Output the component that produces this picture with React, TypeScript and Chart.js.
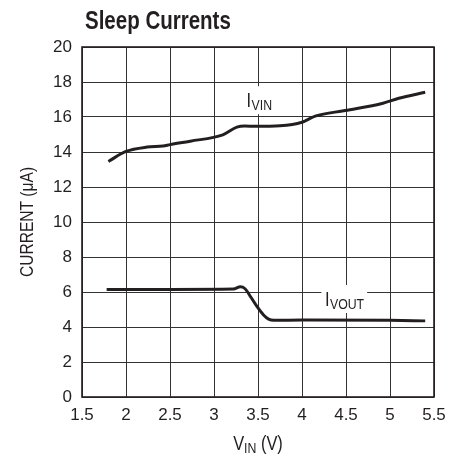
import React, { useEffect, useRef } from "react";
import { Chart, registerables } from "chart.js";

Chart.register(...registerables);

const ivinX = [1.8, 2.0, 2.24, 2.42, 2.5, 2.73, 3.1, 3.26, 3.35, 3.47, 3.75, 4.0, 4.15, 4.49, 4.92, 5.1, 5.4];
const ivinY = [13.46, 14.03, 14.28, 14.34, 14.42, 14.62, 14.98, 15.42, 15.48, 15.47, 15.5, 15.7, 16.05, 16.37, 16.79, 17.07, 17.41];
const ivoutX = [1.78, 2.5, 3.22, 3.3, 3.35, 3.42, 3.49, 3.56, 3.62, 3.68, 4.0, 5.0, 5.4];
const ivoutY = [6.15, 6.15, 6.17, 6.3, 6.2, 5.7, 5.16, 4.7, 4.45, 4.38, 4.4, 4.38, 4.35];

const titleText = "Sleep Currents";
const yTitle = "CURRENT (\u03bcA)";
const xTitleMain = "V";
const xTitleSub = "IN";
const xTitleRest = " (V)";
const seriesLabels = [
  { main: "I", sub: "VIN", x: 3.37, y: 16.56 },
  { main: "I", sub: "VOUT", x: 4.26, y: 5.2 },
];

const FONT = "'Liberation Sans', Arial, sans-serif";
const INK = "#231f20";
const SX = 0.82;

function measure(ctx: CanvasRenderingContext2D, text: string, font: string) {
  ctx.font = font;
  return ctx.measureText(text).width * SX;
}

function drawText(ctx: CanvasRenderingContext2D, text: string, x: number, y: number, font: string) {
  ctx.save();
  ctx.translate(x, y);
  ctx.scale(SX, 1);
  ctx.font = font;
  ctx.textAlign = "left";
  ctx.textBaseline = "alphabetic";
  ctx.fillText(text, 0, 0);
  ctx.restore();
}

const textPlugin = {
  id: "textPlugin",
  beforeDatasetsDraw(chart: any) {
    const ctx = chart.ctx;
    const xs = chart.scales.x;
    const ys = chart.scales.y;
    ctx.save();
    for (const l of seriesLabels) {
      const px = xs.getPixelForValue(l.x);
      const py = ys.getPixelForValue(l.y);
      const fMain = `20px ${FONT}`;
      const fSub = `15px ${FONT}`;
      const wMain = measure(ctx, l.main, fMain);
      const wSub = measure(ctx, l.sub, fSub);
      const w = wMain + wSub;
      ctx.fillStyle = "#ffffff";
      ctx.fillRect(px - 3.5, py - 21, w + 7, 28);
      ctx.fillStyle = INK;
      drawText(ctx, l.main, px, py, fMain);
      drawText(ctx, l.sub, px + wMain + 0.5, py + 2.6, fSub);
    }
    ctx.restore();
  },
  afterDatasetsDraw(chart: any) {
    const ctx = chart.ctx;
    const area = chart.chartArea;
    ctx.save();
    ctx.strokeStyle = INK;
    ctx.lineWidth = 1.6;
    ctx.strokeRect(area.left, area.top, area.right - area.left, area.bottom - area.top);
    ctx.fillStyle = INK;
    // title
    drawText(ctx, titleText, 85, 28.5, `bold 25px ${FONT}`);
    // y title
    const fY = `19px ${FONT}`;
    const wy = measure(ctx, yTitle, fY);
    ctx.save();
    ctx.translate(33, (area.top + area.bottom) / 2);
    ctx.rotate(-Math.PI / 2);
    drawText(ctx, yTitle, -wy / 2, 0, fY);
    ctx.restore();
    // x title
    const fM = `20px ${FONT}`;
    const fS = `15px ${FONT}`;
    const w1 = measure(ctx, xTitleMain, fM);
    const w2 = measure(ctx, xTitleSub, fS);
    const w3 = measure(ctx, xTitleRest, fM);
    const total = w1 + w2 + w3;
    let cx = (area.left + area.right) / 2 - total / 2;
    const base = 450;
    drawText(ctx, xTitleMain, cx, base, fM);
    cx += w1;
    drawText(ctx, xTitleSub, cx, base + 3, fS);
    cx += w2;
    drawText(ctx, xTitleRest, cx, base, fM);
    ctx.restore();
  },
};

export default function App() {
  const ref = useRef<HTMLCanvasElement | null>(null);
  useEffect(() => {
    if (!ref.current) return;
    const chart = new Chart(ref.current, {
      type: "line",
      data: {
        datasets: [
          {
            data: ivinX.map((x, i) => ({ x, y: ivinY[i] })),
            borderColor: INK,
            borderWidth: 3,
            pointRadius: 0,
            tension: 0.4,
            cubicInterpolationMode: "monotone",
            fill: false,
          },
          {
            data: ivoutX.map((x, i) => ({ x, y: ivoutY[i] })),
            borderColor: INK,
            borderWidth: 3,
            pointRadius: 0,
            tension: 0.4,
            cubicInterpolationMode: "monotone",
            fill: false,
          },
        ],
      },
      options: {
        animation: false,
        responsive: false,
        maintainAspectRatio: false,
        layout: { padding: { top: 47, right: 27, bottom: 0, left: 0 } },
        plugins: {
          legend: { display: false },
          title: { display: false },
          tooltip: { enabled: false },
        },
        scales: {
          x: {
            type: "linear",
            min: 1.5,
            max: 5.5,
            afterFit: (s: any) => {
              s.height = 59;
            },
            ticks: {
              stepSize: 0.5,
              color: INK,
              font: { family: FONT, size: 17 },
              padding: 8,
              maxRotation: 0,
              callback: (v: any) => String(v),
            },
            grid: { color: "#333", lineWidth: 1, drawTicks: false },
            border: { display: false },
          },
          y: {
            min: 0,
            max: 20,
            afterFit: (s: any) => {
              s.width = 82;
            },
            ticks: {
              stepSize: 2,
              color: INK,
              font: { family: FONT, size: 17 },
              padding: 10,
              callback: (v: any) => String(v),
            },
            grid: { color: "#333", lineWidth: 1, drawTicks: false },
            border: { display: false },
          },
        },
      },
      plugins: [textPlugin],
    } as any);
    return () => chart.destroy();
  }, []);
  return (
    <div style={{ position: "absolute", left: 0, top: 0, width: 461, height: 456, background: "#fff" }}>
      <canvas ref={ref} width={461} height={456} style={{ width: 461, height: 456, display: "block" }} />
    </div>
  );
}
